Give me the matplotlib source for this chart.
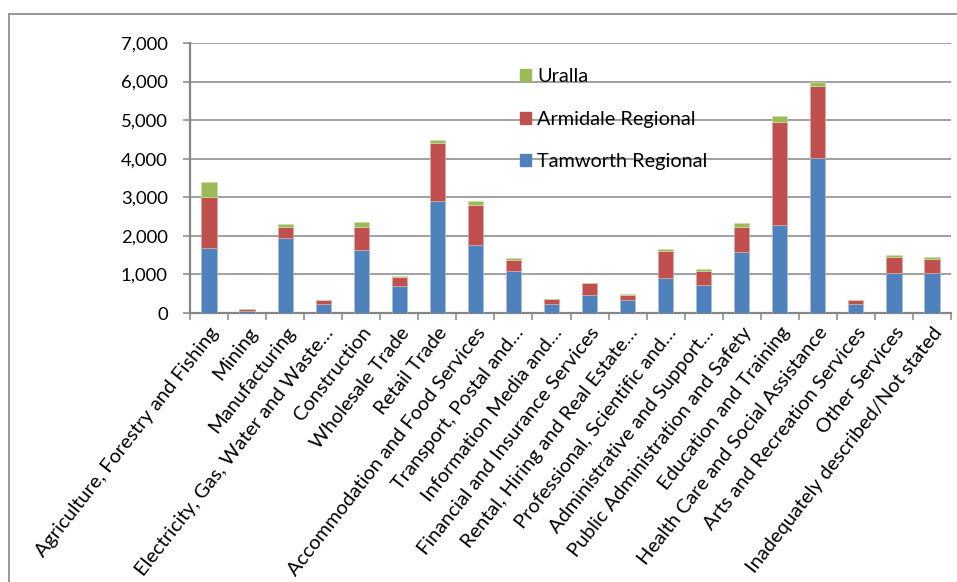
import numpy as np
import matplotlib.pyplot as plt
from matplotlib.patches import Rectangle, Patch

plt.rcParams['font.family'] = ['Lato', 'DejaVu Sans']

industries = [
    'Agriculture, Forestry and Fishing', 'Mining', 'Manufacturing',
    'Electricity, Gas, Water and Waste\u2026', 'Construction', 'Wholesale Trade',
    'Retail Trade', 'Accommodation and Food Services', 'Transport, Postal and\u2026',
    'Information Media and\u2026', 'Financial and Insurance Services',
    'Rental, Hiring and Real Estate\u2026', 'Professional, Scientific and\u2026',
    'Administrative and Support\u2026', 'Public Administration and Safety',
    'Education and Training', 'Health Care and Social Assistance',
    'Arts and Recreation Services', 'Other Services',
    'Inadequately described/Not stated',
]
tamworth = [1675, 55, 1945, 245, 1625, 710, 2910, 1760, 1095, 245,
            470, 345, 905, 730, 1570, 2275, 4030, 245, 1025, 1025]
armidale = [1325, 40, 285, 85, 615, 225, 1490, 1050, 285, 110,
            295, 130, 695, 365, 660, 2680, 1855, 80, 435, 365]
uralla = [395, 5, 80, 10, 115, 30, 95, 90, 35, 20,
          10, 25, 50, 45, 105, 155, 95, 10, 35, 50]
y_ticks = [0, 1000, 2000, 3000, 4000, 5000, 6000, 7000]

blue, red, green = '#4F81BD', '#C0504D', '#9BBB59'
grey = '#868686'

fig = plt.figure(figsize=(9.57, 5.82), dpi=100)
ax = fig.add_axes([190 / 957, 1 - 313 / 582, 761 / 957, 270 / 582])

# chart area border (cut off at right and bottom like the reference)
fig.patches.append(Rectangle((9 / 957, -0.05), 1.0, 1 - 14 / 582 + 0.05,
                             transform=fig.transFigure, fill=False,
                             edgecolor=grey, linewidth=1.2))

x = np.arange(len(industries))
t = np.array(tamworth)
a = np.array(armidale)
u = np.array(uralla)
w = 0.4
ax.bar(x, t, w, color=blue, edgecolor='#A7C0DE', linewidth=0.5, zorder=3)
ax.bar(x, a, w, bottom=t, color=red, edgecolor='#DFA8A6', linewidth=0.5, zorder=3)
ax.bar(x, u, w, bottom=t + a, color=green, edgecolor='#CDDDAC', linewidth=0.5, zorder=3)

ax.set_xlim(-0.5, len(industries) - 0.5)
ax.set_ylim(0, 7000)
ax.set_yticks(y_ticks)
ax.set_yticklabels([f'{v:,}' for v in y_ticks], fontsize=13.3)
ax.yaxis.grid(True, color=grey, linewidth=1.1, zorder=0)
ax.set_axisbelow(True)

# category ticks sit between bars
ax.set_xticks(np.arange(len(industries) + 1) - 0.5)
ax.set_xticklabels([])
ax.set_xticks(x, minor=True)
ax.set_xticklabels(industries, minor=True, rotation=52, ha='right',
                   va='top', rotation_mode='anchor', fontsize=14.4)
ax.tick_params(axis='x', which='minor', length=0, pad=8)
ax.tick_params(axis='x', which='major', length=5, width=1.1, color=grey)
ax.tick_params(axis='y', length=5, width=1.1, color=grey, pad=11)

for s in ['top', 'right']:
    ax.spines[s].set_visible(False)
for s in ['left', 'bottom']:
    ax.spines[s].set_color(grey)
    ax.spines[s].set_linewidth(1.6)

handles = [Patch(color=green), Patch(color=red), Patch(color=blue)]
ax.legend(handles, ['Uralla', 'Armidale Regional', 'Tamworth Regional'],
          loc='upper left', bbox_to_anchor=(0.421, 0.945), frameon=False,
          fontsize=14.3, handlelength=0.55, handleheight=0.55,
          handletextpad=0.3, labelspacing=1.3, borderpad=0)

fig.savefig('out.png', dpi=100)
